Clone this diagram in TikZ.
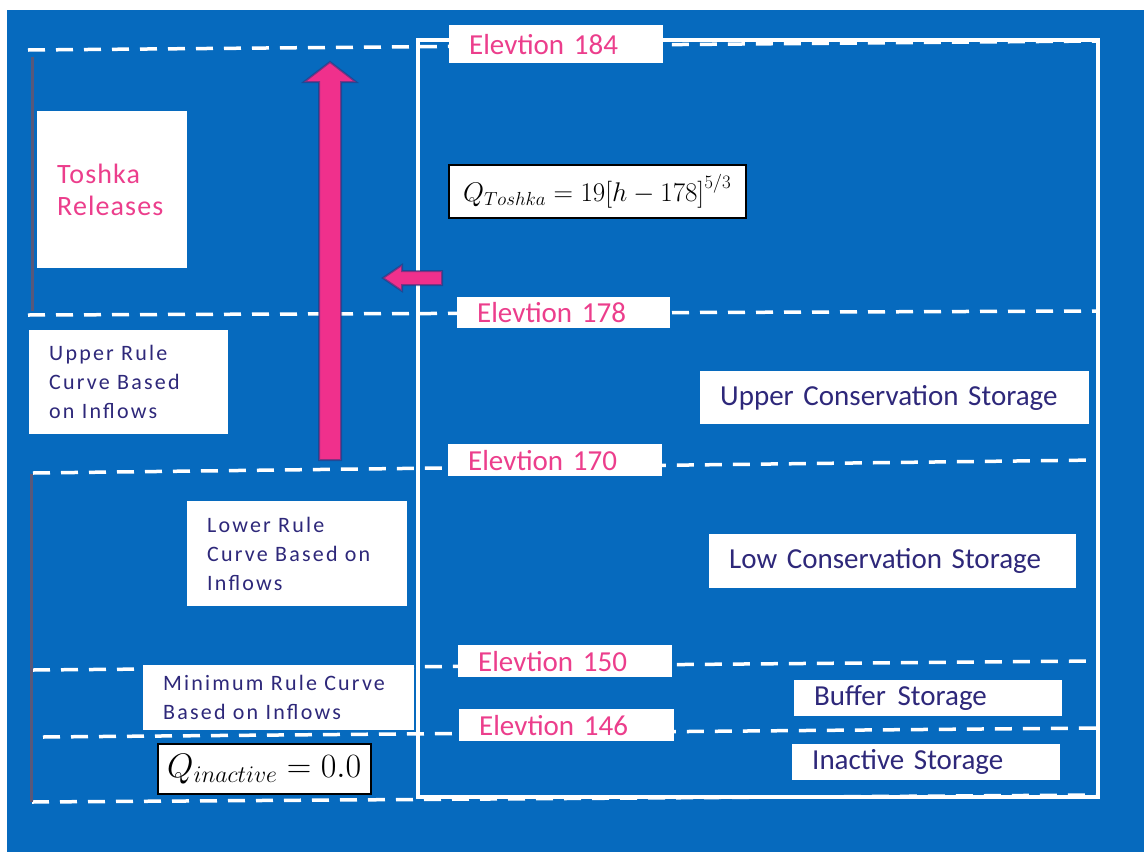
\documentclass[tikz,border=0pt]{standalone}
\usepackage{fix-cm}
\usepackage[no-math]{fontspec}
\setmainfont{Carlito}
\newfontfamily\spacedfont[LetterSpace=10]{Carlito}
\newfontfamily\toshkafont[LetterSpace=4]{Carlito}
\definecolor{bgblue}{RGB}{6,106,190}
\definecolor{rosetext}{RGB}{236,62,140}
\definecolor{rosearrow}{RGB}{240,48,140}
\definecolor{navytext}{RGB}{46,40,122}
\definecolor{barcol}{RGB}{88,88,122}
\definecolor{halo}{RGB}{40,50,120}
\tikzset{
  levelline/.style={white, line width=3.5pt, dash pattern=on 17pt off 11pt},
  reservoir/.style={white, line width=4.5pt},
  sidebar/.style={barcol, line width=3pt},
  arrowfill/.style={fill=rosearrow, draw=halo, draw opacity=0.55, line width=2pt, line join=miter},
  lbl/.style n args={2}{fill=white, anchor=north west, inner xsep=20pt, inner ysep=0pt,
    minimum width=#1pt, minimum height=#2pt, text width={#1pt-40pt}, align=left},
  elev/.style={font=\fontsize{29}{32}\selectfont, text=rosetext},
  store/.style={font=\fontsize{29}{32}\selectfont, text=navytext},
  rule/.style={font=\spacedfont\fontsize{22}{29}\selectfont, text=navytext},
  eqbox/.style={fill=white, draw=black, line width=1.5pt, anchor=north west, inner sep=0pt,
    minimum width=#1pt}
}
\begin{document}
\begin{tikzpicture}[x=1pt,y=-1pt]
\useasboundingbox (0,0) rectangle (1144,852);
\fill[white] (0,0) rectangle (1144,852);
\fill[bgblue] (7,10) rectangle (1144,852);

% elevation levels
\draw[levelline] (28,50) -- (1098,41);
\draw[levelline] (28,315) -- (1098,311);
\draw[levelline] (33,473) -- (1098,460);
\draw[levelline] (33,670) -- (1098,661);
\draw[levelline] (43,737) -- (1098,728);
\draw[levelline] (32,802) -- (1098,795);

% reservoir outline
\draw[reservoir] (418,40) rectangle (1098,797);

% rule-curve extents on the left
\draw[sidebar] (32,57) -- (32,311);
\draw[sidebar] (31,474) -- (31,802);

% release arrows
\filldraw[arrowfill] (319,460) -- (319,82) -- (304,82) -- (330,62) -- (356,82)
  -- (341,82) -- (341,460) -- cycle;
\filldraw[arrowfill] (442,271) -- (402,271) -- (402,265) -- (383,278) -- (402,291)
  -- (402,285) -- (442,285) -- cycle;

% labels
\node[lbl={150}{157}, text=rosetext, font=\toshkafont\fontsize{28}{32}\selectfont]
  (toshka) at (37,111) {Toshka\\Releases};
\node[lbl={214}{38}, elev] (e184) at (449,25) {Elevtion 184};
\node[lbl={213}{31}, elev] (e178) at (457,297) {Elevtion 178};
\node[lbl={214}{32}, elev] (e170) at (448,444) {Elevtion 170};
\node[lbl={214}{32}, elev] (e150) at (458,645) {Elevtion 150};
\node[lbl={215}{32}, elev] (e146) at (459,709) {Elevtion 146};

\node[lbl={199}{104}, rule] (upper) at (29,330) {Upper Rule\\Curve Based\\on Inflows};
\node[lbl={220}{105}, rule] (lower) at (187,501) {Lower Rule\\Curve Based on\\Inflows};
\node[lbl={271}{65}, rule] (minimum) at (143,665) {Minimum Rule Curve\\Based on Inflows};

\node[lbl={389}{53}, store] (ucs) at (700,371) {Upper Conservation Storage};
\node[lbl={367}{54}, store] (lcs) at (709,534) {Low Conservation Storage};
\node[lbl={268}{36}, store] (buffer) at (794,680) {Buffer\hspace{0.4em}Storage};
\node[lbl={268}{36}, store] (inactive) at (792,744) {Inactive Storage};

\node[eqbox=297, minimum height=53pt, font=\fontsize{27}{32}\selectfont]
  (qtoshka) at (448,164) {$Q_{Toshka} = 19\bigl[h-178\bigr]^{5/3}$};
\node[eqbox=213, minimum height=50pt, font=\fontsize{34}{38}\selectfont]
  (qinactive) at (157,743) {$Q_{inactive} = 0.0$};
\end{tikzpicture}
\end{document}
